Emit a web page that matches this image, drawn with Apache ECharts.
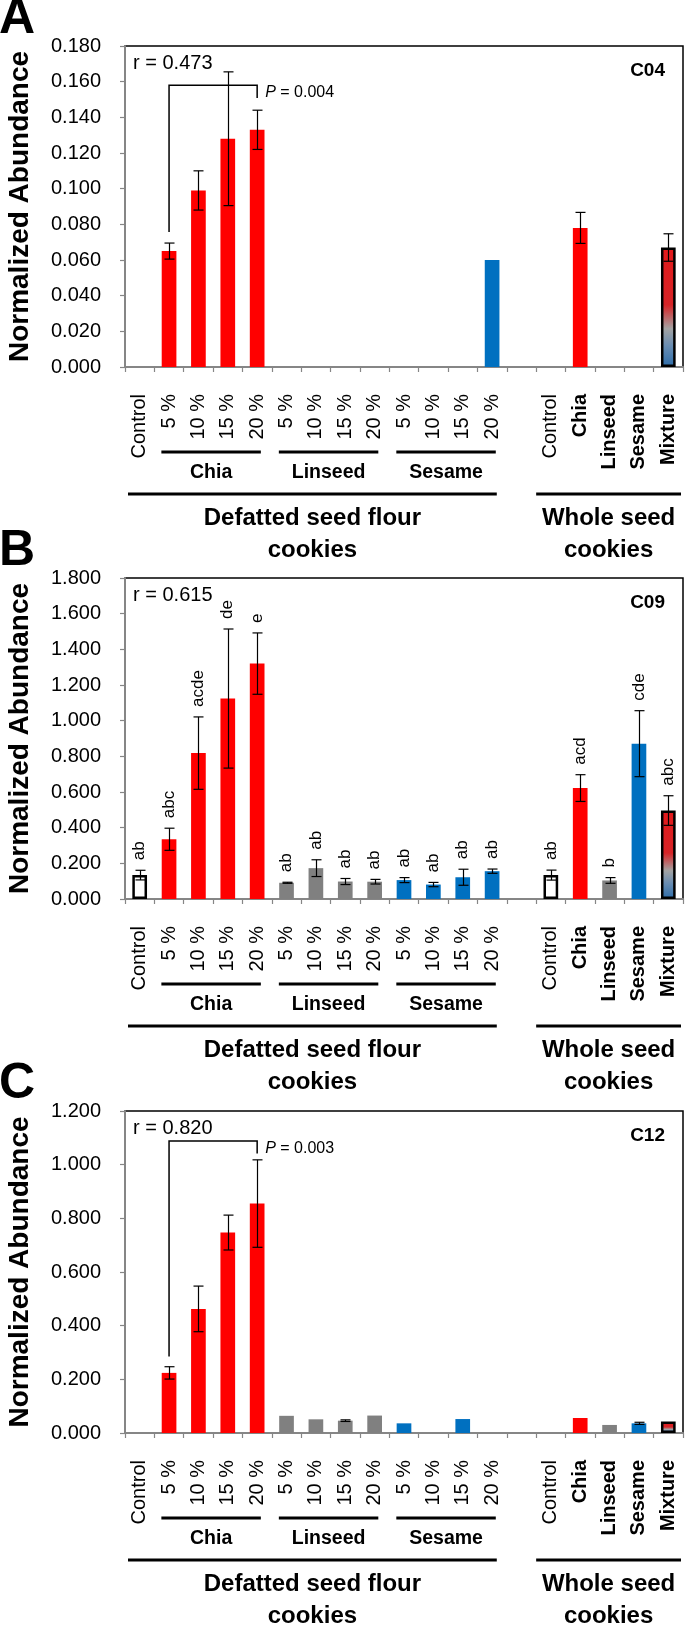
<!DOCTYPE html>
<html><head><meta charset="utf-8">
<script src="https://cdn.jsdelivr.net/npm/echarts@6/dist/echarts.min.js"></script>
<style>html,body{margin:0;padding:0;background:#fff}#c{width:685px;height:1625px}</style>
</head><body><div id="c"></div>
<script>
// ---------------- data ----------------
const categories = ['Control','5 %','10 %','15 %','20 %','5 %','10 %','15 %','20 %','5 %','10 %','15 %','20 %','','Control','Chia','Linseed','Sesame','Mixture'];
const boldLabel  = [0,0,0,0,0,0,0,0,0,0,0,0,0,0,0,1,1,1,1];
const barKind    = ['control','red','red','red','red','gray','gray','gray','gray','blue','blue','blue','blue','','control','red','gray','blue','mixture'];

const valuesA = [0, 0.065, 0.099, 0.128, 0.133, 0, 0, 0, 0, 0, 0, 0, 0.060, null, 0, 0.078, 0, 0, 0.067];
const errorsA = [0, 0.0045, 0.011, 0.0375, 0.011, 0, 0, 0, 0, 0, 0, 0, 0, null, 0, 0.0087, 0, 0, 0.0077];

const valuesB = [0.134, 0.335, 0.818, 1.124, 1.320, 0.091, 0.173, 0.098, 0.097, 0.106, 0.081, 0.122, 0.156, null, 0.134, 0.622, 0.104, 0.871, 0.496];
const errorsB = [0.027, 0.062, 0.203, 0.390, 0.172, 0.003, 0.047, 0.017, 0.013, 0.014, 0.012, 0.045, 0.012, null, 0.028, 0.075, 0.016, 0.185, 0.083];
const lettersB = ['ab','abc','acde','de','e','ab','ab','ab','ab','ab','ab','ab','ab','','ab','acd','b','cde','abc'];

const valuesC = [0, 0.224, 0.4625, 0.747, 0.855, 0.064, 0.051, 0.046, 0.065, 0.036, 0, 0.052, 0, null, 0, 0.056, 0.030, 0.036, 0.043];
const errorsC = [0, 0.023, 0.085, 0.065, 0.163, 0, 0, 0.003, 0, 0, 0, 0, 0, null, 0, 0, 0, 0.004, 0];

const yRangeA = [0, 0.18, 0.02];
const yRangeB = [0, 1.8, 0.2];
const yRangeC = [0, 1.2, 0.2];

const panelLetters = ['A','B','C'];
const compoundIds  = ['C04','C09','C12'];
const rTexts       = ['r = 0.473','r = 0.615','r = 0.820'];
const bracketA = {from:1, to:4, leftBottom:0.0757, top:0.158, rightBottom:0.1508, p:'0.004'};
const bracketC = {from:1, to:4, leftBottom:0.285, top:1.088, rightBottom:1.042, p:'0.003'};

const subGroups  = [{name:'Chia', from:1, to:4}, {name:'Linseed', from:5, to:8}, {name:'Sesame', from:9, to:12}];
const mainGroups = [{lines:['Defatted seed flour','cookies'], from:0, to:12, inL:3, inR:10},
                    {lines:['Whole seed','cookies'], from:14, to:18, inL:0, inR:2}];
const yTitle = 'Normalized Abundance';

// ---------------- layout / style ----------------
const FONT = '"Liberation Sans", Arial, sans-serif';
const gridTops = [46, 578, 1111];
const gridHeights = [321, 321, 322];
const gridLeft = 125, gridRight = 2;
const fills = {red:'#FF0000', blue:'#0070C0', gray:'#808080'};
const mixGrad = () => new echarts.graphic.LinearGradient(0,0,0,1,[
  {offset:0, color:'#E3191B'}, {offset:0.48, color:'#D62427'},
  {offset:0.68, color:'#A3A3A3'}, {offset:0.82, color:'#6A8DB2'}, {offset:1, color:'#2C6CA9'}]);

const panels = [
  {vals:valuesA, errs:errorsA, range:yRangeA, bracket:bracketA, letters:null},
  {vals:valuesB, errs:errorsB, range:yRangeB, bracket:null, letters:lettersB},
  {vals:valuesC, errs:errorsC, range:yRangeC, bracket:bracketC, letters:null}
];

function barData(vals){
  return vals.map((v,i)=>{
    if (v === null) return '-';
    const k = barKind[i];
    const st = {color: fills[k]};
    if (k === 'control'){ st.color = '#FFFFFF'; st.borderColor = '#000'; st.borderWidth = v > 0 ? 2.5 : 0; }
    if (k === 'mixture'){ st.color = mixGrad(); st.borderColor = '#000'; st.borderWidth = v > 0 ? 2.5 : 0; }
    return {value: v, itemStyle: st};
  });
}

const grids = [], xAxes = [], yAxes = [], series = [], graphics = [];
panels.forEach((p, pi) => {
  grids.push({left:gridLeft, right:gridRight, top:gridTops[pi], height:gridHeights[pi], show:true,
    borderColor:'#000', borderWidth:1.5, backgroundColor:'#fff'});
  xAxes.push({type:'category', gridIndex:pi, data:categories,
    axisLine:{lineStyle:{color:'#868686', width:2}},
    axisTick:{show:true, length:5, lineStyle:{color:'#868686', width:1.2}},
    axisLabel:{interval:0, rotate:90, margin:27, color:'#000', fontFamily:FONT, fontSize:20,
      formatter:(v,i)=> boldLabel[i] ? '{b|'+v+'}' : v,
      rich:{b:{fontWeight:'bold', fontFamily:FONT, fontSize:20, color:'#000'}}}
  });
  yAxes.push({type:'value', gridIndex:pi, min:p.range[0], max:p.range[1], interval:p.range[2],
    splitLine:{show:false},
    axisLine:{show:true, lineStyle:{color:'#868686', width:2}},
    axisTick:{show:true, length:5, lineStyle:{color:'#868686', width:1.2}},
    axisLabel:{margin:24, color:'#000', fontFamily:FONT, fontSize:20, formatter:v=>v.toFixed(3)}
  });
  series.push({type:'bar', xAxisIndex:pi, yAxisIndex:pi, barWidth:'50%', data:barData(p.vals), silent:true, z:2});
  // error bars
  series.push({type:'custom', xAxisIndex:pi, yAxisIndex:pi, z:5, silent:true, clip:false,
    data: p.vals.map((v,i)=>[i, v, p.errs[i]]).filter(d=>d[1]!==null && d[2]>0),
    renderItem:(params, api)=>{
      const i = api.value(0), v = api.value(1), e = api.value(2);
      const t = api.coord([i, v+e]), b = api.coord([i, v-e]);
      const x = Math.round(t[0]) + 0.5, hw = 5;
      const s = {stroke:'#000', lineWidth:1.2};
      return {type:'group', children:[
        {type:'line', shape:{x1:x, y1:t[1], x2:x, y2:b[1]}, style:s},
        {type:'line', shape:{x1:x-hw, y1:t[1], x2:x+hw, y2:t[1]}, style:s},
        {type:'line', shape:{x1:x-hw, y1:b[1], x2:x+hw, y2:b[1]}, style:s}]};
    }});
  // letters
  if (p.letters){
    series.push({type:'custom', xAxisIndex:pi, yAxisIndex:pi, z:6, silent:true, clip:false,
      data: p.vals.map((v,i)=>[i, v === null ? 0 : v + p.errs[i]]).filter(d=>p.letters[d[0]]),
      renderItem:(params, api)=>{
        const i = api.value(0);
        const c = api.coord([i, api.value(1)]);
        return {type:'text', x:c[0], y:c[1]-10, rotation:Math.PI/2,
          style:{text:p.letters[i], font:'17px '+FONT, fill:'#000', align:'left', verticalAlign:'middle'}};
      }});
  }
  // bracket
  if (p.bracket){
    const bk = p.bracket;
    series.push({type:'custom', xAxisIndex:pi, yAxisIndex:pi, z:6, silent:true, clip:false,
      data:[[bk.from, bk.top]],
      renderItem:(params, api)=>{
        const L = api.coord([bk.from, bk.leftBottom]), T = api.coord([bk.from, bk.top]);
        const R = api.coord([bk.to, bk.top]), RB = api.coord([bk.to, bk.rightBottom]);
        return {type:'group', children:[
          {type:'polyline', shape:{points:[[L[0],L[1]],[L[0],T[1]],[R[0],T[1]],[R[0],RB[1]]]},
            style:{stroke:'#000', lineWidth:1.5, fill:null}},
          {type:'text', x:R[0]+8, y:(T[1]+RB[1])/2 + 1,
            style:{text:'{i|P} = '+bk.p, font:'16px '+FONT, fill:'#000', align:'left', verticalAlign:'middle',
              rich:{i:{fontStyle:'italic', fontSize:16, fontFamily:FONT, fill:'#000'}}}}]};
      }});
  }
  // group decorations below axis
  series.push({type:'custom', xAxisIndex:pi, yAxisIndex:pi, z:6, silent:true, clip:false,
    data:[[0,0]],
    renderItem:(params, api)=>{
      const cs = params.coordSys;
      const bw = api.size([1,0])[0];
      const y0 = cs.y + cs.height;
      const cx = i => api.coord([i, 0])[0];
      const ch = [];
      subGroups.forEach(g=>{
        const x1 = cx(g.from) - bw/2 + 7, x2 = cx(g.to) + bw/2 - 11;
        ch.push({type:'line', shape:{x1, y1:y0+85, x2, y2:y0+85}, style:{stroke:'#000', lineWidth:3}});
        ch.push({type:'text', x:(x1+x2)/2, y:y0+106, style:{text:g.name, font:'bold 19.5px '+FONT, fill:'#000', align:'center', verticalAlign:'middle'}});
      });
      mainGroups.forEach(g=>{
        const x1 = cx(g.from) - bw/2 + g.inL, x2 = cx(g.to) + bw/2 - g.inR;
        ch.push({type:'line', shape:{x1, y1:y0+127, x2, y2:y0+127}, style:{stroke:'#000', lineWidth:3}});
        g.lines.forEach((t, k)=>{
          ch.push({type:'text', x:(x1+x2)/2, y:y0+151+k*32, style:{text:t, font:'bold 24px '+FONT, fill:'#000', align:'center', verticalAlign:'middle'}});
        });
      });
      return {type:'group', children:ch};
    }});
  // static texts
  const top = gridTops[pi], h = gridHeights[pi];
  graphics.push({type:'text', x:20, y:top + h/2, rotation:Math.PI/2,
    style:{text:yTitle, font:'bold 28px '+FONT, fill:'#000', align:'center', verticalAlign:'middle'}});
  graphics.push({type:'text', x:-1, y:top - 27, style:{text:panelLetters[pi], font:'bold 50px '+FONT, fill:'#000', align:'left', verticalAlign:'middle'}});
  graphics.push({type:'text', x:gridLeft + 8, y:top + 17, style:{text:rTexts[pi], font:'20px '+FONT, fill:'#000', align:'left', verticalAlign:'middle'}});
  graphics.push({type:'text', x:685 - gridRight - 18, y:top + 25, style:{text:compoundIds[pi], font:'bold 19px '+FONT, fill:'#000', align:'right', verticalAlign:'middle'}});
});

const chart = echarts.init(document.getElementById('c'), null, {renderer:'canvas'});
chart.setOption({animation:false, backgroundColor:'#fff', grid:grids, xAxis:xAxes, yAxis:yAxes, series, graphic:graphics});
</script></body></html>
